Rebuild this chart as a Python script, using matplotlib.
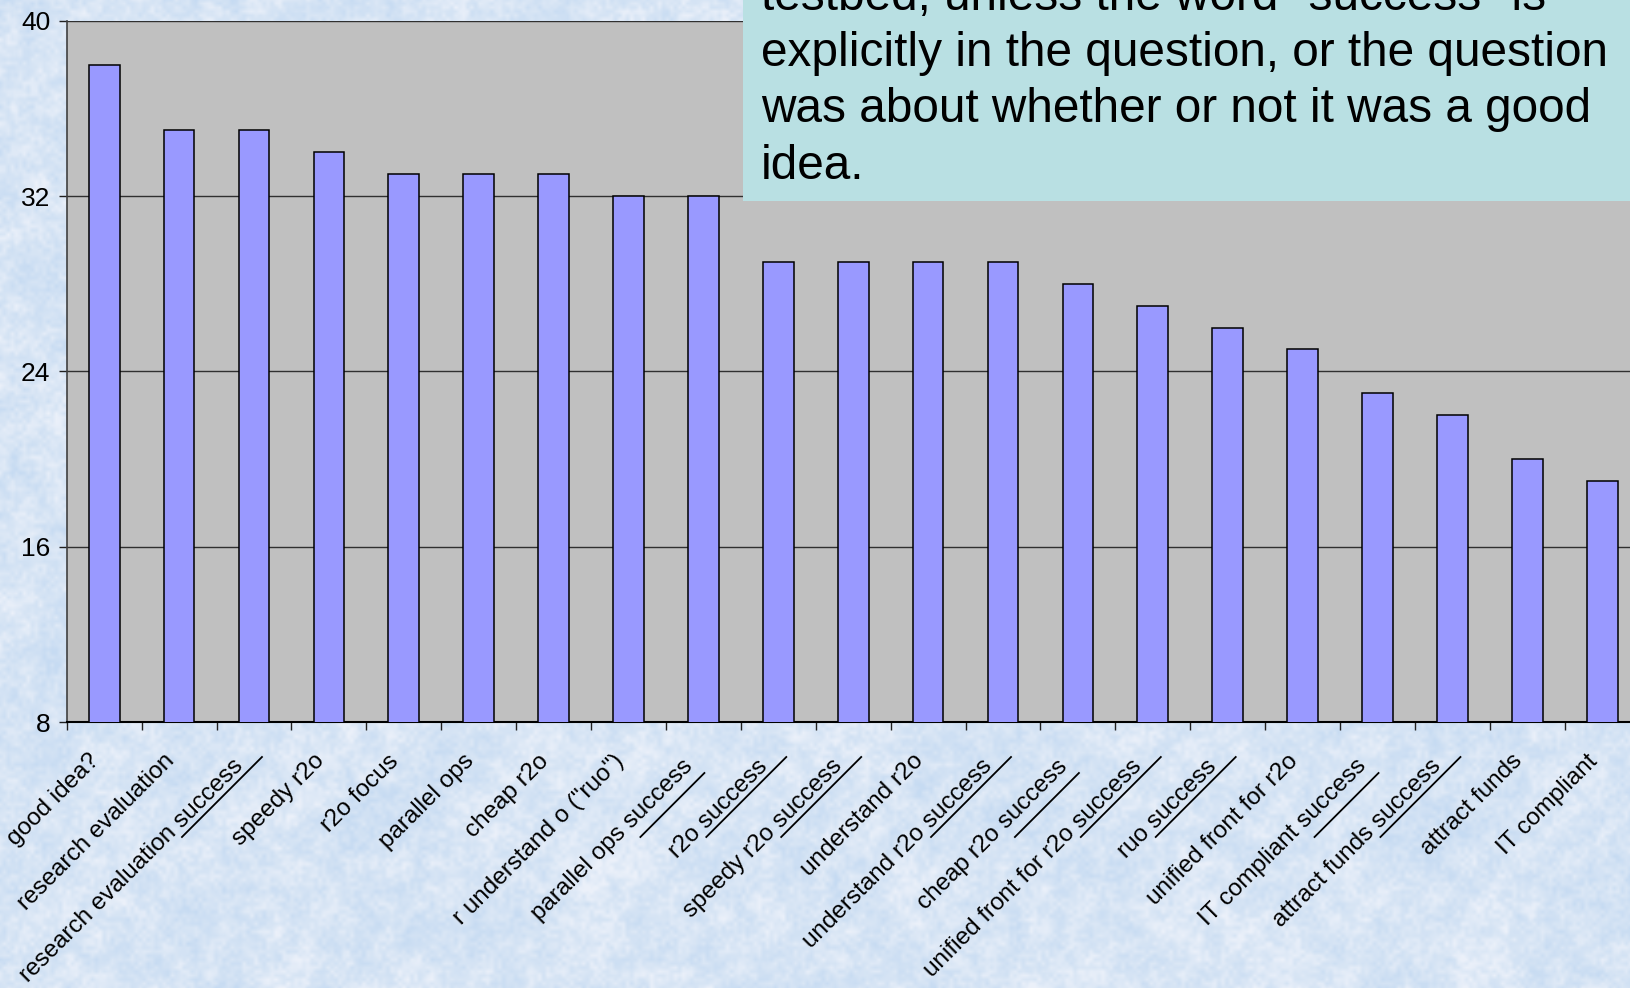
import numpy as np
import matplotlib
matplotlib.use("Agg")
import matplotlib.pyplot as plt
from matplotlib.patches import Rectangle
from matplotlib.lines import Line2D
from matplotlib import transforms

plt.rcParams['font.family'] = ['Liberation Sans', 'DejaVu Sans']

# survey answers, sorted by number of responses
categories = [
    'good idea?', 'research evaluation', 'research evaluation success',
    'speedy r2o', 'r2o focus', 'parallel ops', 'cheap r2o',
    'r understand o ("ruo")', 'parallel ops success', 'r2o success',
    'speedy r2o success', 'understand r2o', 'understand r2o success',
    'cheap r2o success', 'unified front for r2o success', 'ruo success',
    'unified front for r2o', 'IT compliant success', 'attract funds success',
    'attract funds', 'IT compliant',
]
counts = [38, 35, 35, 34, 33, 33, 33, 32, 32, 29, 29, 29, 29, 28, 27, 26,
          25, 23, 22, 20, 19]
y_ticks = [8, 16, 24, 32, 40]

note_lines = [
    'testbed, unless the word "success" is',
    'explicitly in the question, or the question',
    'was about whether or not it was a good',
    'idea.',
]

W, H = 1631, 988


def soft_layer(rng, h, w, cell):
    gh, gw = h // cell + 2, w // cell + 2
    g = rng.random((gh, gw))
    xs = np.linspace(0, gw - 1.001, w)
    ys = np.linspace(0, gh - 1.001, h)
    rows = np.array([np.interp(xs, np.arange(gw), r) for r in g])
    return np.array([np.interp(ys, np.arange(gh), c) for c in rows.T]).T


def tissue_texture(h, w, seed=3):
    """Pale blue mottled paper used behind the slide."""
    rng = np.random.default_rng(seed)
    n = (0.25 * soft_layer(rng, h, w, 60) + 0.4 * soft_layer(rng, h, w, 14)
         + 0.35 * soft_layer(rng, h, w, 4))
    n = (n - n.mean()) / n.std()
    t = np.clip(n * 0.33, -1, 1)[..., None]
    base = np.array([0.845, 0.898, 0.96])
    light = np.array([0.925, 0.945, 0.98])
    dark = np.array([0.78, 0.86, 0.95])
    return np.where(t > 0, base + t * (light - base), base - t * (dark - base))


fig = plt.figure(figsize=(W / 100, H / 100), dpi=100)

bg = fig.add_axes([0, 0, 1, 1], zorder=-5)
bg.imshow(tissue_texture(H, W), aspect='auto', interpolation='nearest')
bg.axis('off')

# plot area runs slightly past the right edge of the slide
ax = fig.add_axes([66.7 / W, 1 - 722 / H, 1573 / W, 701.3 / H])
ax.set_facecolor('#C0C0C0')

x = np.arange(len(categories))
ax.bar(x, counts, width=0.41, color='#9999FF', edgecolor='black',
       linewidth=1.1, zorder=3)

ax.set_xlim(-0.5, len(categories) - 0.5)
ax.set_ylim(y_ticks[0], y_ticks[-1])
ax.set_yticks(y_ticks)
ax.yaxis.grid(True, color='#303030', linewidth=1.0)
ax.set_axisbelow(True)

for side in ('top', 'right'):
    ax.spines[side].set_visible(False)
ax.spines['left'].set_color('#404040')
ax.spines['left'].set_linewidth(1.2)
ax.spines['bottom'].set_linewidth(1.5)

# tick marks between categories, labels under the bars
ax.set_xticks(np.arange(len(categories) + 1) - 0.5)
ax.tick_params(axis='x', which='major', length=5.8, width=1.0,
               labelbottom=False, color='#202020')
ax.set_xticks(x, categories, minor=True, rotation=45, ha='right',
              va='baseline', rotation_mode='anchor', fontsize=17.5)
ax.tick_params(axis='x', which='minor', length=0, pad=23.8)
ax.tick_params(axis='y', length=5.8, width=1.0, pad=6, labelsize=19,
               color='#202020')

shift = transforms.ScaledTranslation(-4 / 100, -7 / 100, fig.dpi_scale_trans)
shift_success = transforms.ScaledTranslation(-10 / 100, -12 / 100,
                                             fig.dpi_scale_trans)
for lbl, name in zip(ax.get_xticklabels(minor=True), categories):
    extra = shift_success if name.endswith('success') else shift
    lbl.set_transform(lbl.get_transform() + extra)

# hand-drawn underlines beneath "success"
short_lines = {'parallel ops success', 'cheap r2o success', 'IT compliant success'}
for i, name in enumerate(categories):
    if not name.endswith('success'):
        continue
    c = ax.transData.transform((i, y_ticks[0]))[0]
    if name in short_lines:
        x_end, y_end = c + 1, 773
    else:
        x_end, y_end = c + 8, 757
    y_start = 837
    x_start = x_end - (y_start - y_end)
    fig.add_artist(Line2D([x_start / W, x_end / W],
                          [1 - y_start / H, 1 - y_end / H],
                          transform=fig.transFigure, color='black', lw=1.3))

# note box in the top right corner
box_left, box_bottom = 742.7, 200.7
fig.add_artist(Rectangle((box_left / W, 1 - box_bottom / H),
                         1 - box_left / W, box_bottom / H,
                         transform=fig.transFigure, facecolor='#B9E0E3',
                         edgecolor='none', zorder=5))
line_gap = 56.5
last_baseline = 179
for k, line in enumerate(note_lines):
    yb = last_baseline - (len(note_lines) - 1 - k) * line_gap
    fig.text(761 / W, 1 - yb / H, line, fontsize=34.4, va='baseline',
             ha='left', color='black', zorder=6)

fig.savefig('out.png', dpi=100)
